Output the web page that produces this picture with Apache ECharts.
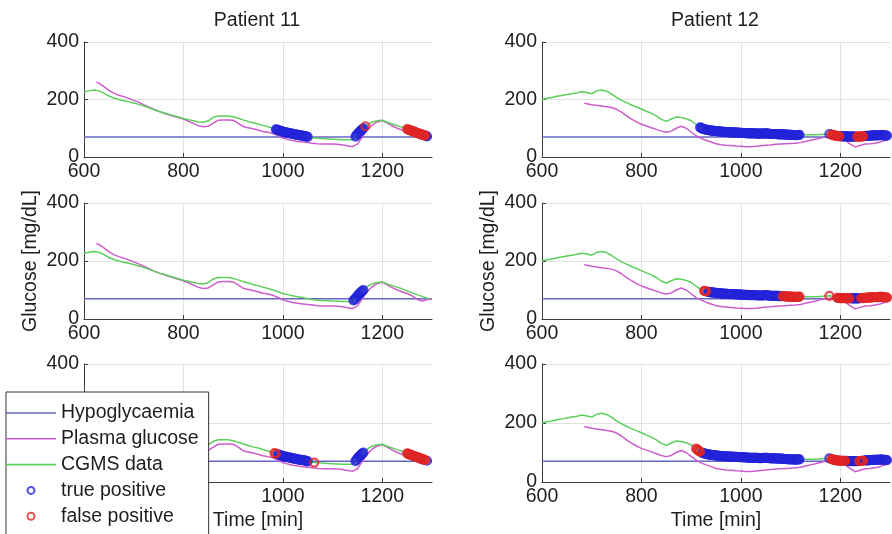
<!DOCTYPE html>
<html><head><meta charset="utf-8">
<script src="https://cdn.jsdelivr.net/npm/echarts@6/dist/echarts.min.js"></script>
<style>html,body{margin:0;padding:0;background:#fff}#c{width:892px;height:534px}</style>
</head><body><div id="c"></div>
<script>
// ---------- data ----------
const patientTitles = ['Patient 11', 'Patient 12'];
const timeTicks = [600, 800, 1000, 1200];
const timeExtent = [600, 1300];
const glucoseExtent = [0, 400];
const glucoseInterval = 200;
const hypoThreshold = 70;
const seriesNames = ['Hypoglycaemia', 'Plasma glucose', 'CGMS data', 'true positive', 'false positive'];

const p11Cgms = [[600,227],[610,230],[620,233],[630,230],[640,222],[650,212],[660,205],[670,200],[680,196],[690,192],[700,188],[710,183],[720,178],[730,172],[740,165],[750,159],[760,154],[770,149],[780,144],[790,139],[800,134],[810,130],[820,126],[830,122],[840,121],[850,126],[860,138],[870,143],[880,143],[890,143],[900,140],[910,135],[920,129],[930,124],[940,119],[950,115],[960,110],[970,105],[980,100],[990,94],[1000,88],[1010,84],[1020,80],[1030,77],[1040,74],[1050,70],[1060,67],[1070,65],[1080,64],[1090,63],[1100,62],[1110,61],[1120,60],[1130,60],[1140,60],[1150,80],[1160,97],[1170,112],[1180,122],[1190,126],[1200,128],[1210,121],[1220,115],[1230,109],[1240,104],[1250,97],[1260,90],[1270,84],[1280,78],[1290,72],[1295,70]];
const p11Plasma = [[625,260],[630,257],[640,245],[650,232],[660,222],[670,215],[680,210],[690,204],[700,197],[710,190],[720,182],[730,174],[740,166],[750,159],[760,153],[770,147],[780,142],[790,137],[800,132],[810,125],[820,117],[830,109],[840,105],[850,107],[860,118],[870,128],[880,129],[890,129],[900,128],[910,118],[920,106],[930,102],[940,98],[950,94],[960,89],[970,86],[980,82],[990,74],[1000,66],[1010,61],[1020,57],[1030,54],[1040,52],[1050,50],[1060,48],[1070,46],[1080,45],[1090,45],[1100,45],[1110,44],[1120,42],[1130,39],[1140,36],[1150,45],[1160,70],[1170,95],[1180,112],[1190,122],[1200,127],[1210,118],[1220,108],[1230,100],[1240,94],[1250,88],[1260,80],[1270,68],[1280,62],[1290,66],[1300,70]];
const p11Detections = [[983,98],[986,96],[988,95],[990,94],[992,93],[994,91.5],[996,90],[998,89],[1000,88],[1002,87],[1004,86],[1006,85.5],[1008,85],[1010,84],[1012,83],[1014,82.5],[1016,82],[1018,81],[1020,80],[1022,79.5],[1024,79],[1026,78],[1028,77.5],[1030,77],[1032,76],[1034,75.5],[1036,75],[1038,74.5],[1040,74],[1042,73.5],[1044,73],[1046,72],[1048,71],[1050,70],[1063,66],[1142,64],[1144,67],[1146,71],[1148,75],[1150,80],[1152,84],[1154,87],[1156,91],[1158,94],[1160,97],[1162,100],[1166,107],[1250,97],[1252,95.5],[1254,94],[1256,93],[1258,91.5],[1260,90],[1262,89],[1264,88],[1266,86.5],[1268,85],[1270,84],[1272,83],[1274,81.5],[1276,80],[1278,79],[1280,78],[1282,77],[1284,76],[1286,74.5],[1288,73],[1290,72]];

const p12Cgms = [[600,200],[610,204],[620,207],[630,211],[640,214],[650,217],[660,220],[670,223],[680,227],[690,224],[700,220],[710,230],[720,233],[730,229],[740,219],[750,207],[760,197],[770,189],[780,181],[790,174],[800,167],[810,159],[820,152],[830,143],[840,131],[850,124],[860,132],[870,139],[880,137],[890,133],[900,126],[910,113],[920,101],[930,95],[940,92],[950,90],[960,88],[970,87],[980,86],[990,85],[1000,84],[1010,83],[1020,82],[1030,82],[1040,81],[1050,82],[1060,80],[1070,80],[1080,79],[1090,78],[1100,77],[1110,76],[1120,77],[1130,77],[1140,77],[1150,77],[1160,78],[1170,79],[1180,80],[1190,74],[1200,72],[1210,72],[1220,71],[1230,71],[1240,71],[1250,73],[1260,74],[1270,75],[1280,76],[1290,75],[1295,74]];
const p12Plasma = [[685,187],[700,182],[720,177],[740,172],[750,166],[760,156],[770,143],[780,132],[790,122],[800,114],[810,108],[820,102],[830,96],[840,90],[850,86],[860,90],[870,100],[880,107],[890,100],[900,87],[910,74],[920,65],[930,58],[940,52],[950,46],[960,43],[970,41],[980,40],[990,38],[1000,37],[1010,36],[1020,36],[1030,37],[1040,39],[1050,41],[1060,42],[1070,44],[1080,45],[1090,46],[1100,47],[1110,48],[1120,50],[1130,54],[1140,58],[1150,62],[1160,66],[1170,70],[1180,72],[1190,73],[1200,72],[1210,58],[1220,45],[1230,35],[1240,40],[1250,45],[1260,46],[1270,48],[1280,52],[1290,58],[1295,61]];
const p12Detections = [[910,113],[912,110],[914,108],[916,105],[918,103],[920,101],[922,99],[924,98],[926,97],[928,96],[930,95],[932,94],[934,93.5],[936,93],[938,92.5],[940,92],[942,91.5],[944,91],[946,91],[948,90.5],[950,90],[952,89.5],[954,89],[956,89],[958,88.5],[960,88],[962,88],[964,87.5],[966,87.5],[968,87],[970,87],[972,86.5],[974,86.5],[976,86],[978,86],[980,86],[982,86],[984,85.5],[986,85.5],[988,85],[990,85],[992,85],[994,84.5],[996,84],[998,84],[1000,84],[1002,84],[1004,83.5],[1006,83.5],[1008,83],[1010,83],[1012,83],[1014,82.5],[1016,82],[1018,82],[1020,82],[1022,82],[1024,82],[1026,82],[1028,82],[1030,82],[1032,81.5],[1034,81.5],[1036,81],[1038,81],[1040,81],[1042,81],[1044,81],[1046,81.5],[1048,82],[1050,82],[1052,81.5],[1054,81],[1056,81],[1058,80.5],[1060,80],[1062,80],[1064,80],[1066,80],[1068,80],[1070,80],[1072,79.5],[1074,79.5],[1076,79],[1078,79],[1080,79],[1082,79],[1084,78.5],[1086,78.5],[1088,78],[1090,78],[1092,77.5],[1094,77.5],[1096,77],[1098,77],[1100,77],[1102,77],[1104,76.5],[1106,76.5],[1108,76],[1110,76],[1112,76],[1114,76.5],[1116,76.5],[1118,77],[1178,80],[1180,79],[1182,78],[1184,77],[1186,76],[1188,75],[1190,74],[1192,73.5],[1194,73],[1196,72.5],[1198,72],[1200,72],[1202,72],[1204,72],[1206,72],[1208,72],[1210,72],[1212,71.5],[1214,71.5],[1216,71],[1218,71],[1220,71],[1222,71],[1224,71],[1226,71],[1228,71],[1230,71],[1232,71],[1234,71],[1236,71],[1238,71],[1240,71],[1242,71.5],[1244,72],[1246,72],[1248,72.5],[1250,73],[1252,73],[1254,73.5],[1256,73.5],[1258,74],[1260,74],[1262,74.5],[1264,74.5],[1266,75],[1268,75],[1270,75],[1272,75],[1274,75.5],[1276,75.5],[1278,76],[1280,76],[1282,76],[1284,76],[1286,75.5],[1288,75.5],[1290,75],[1292,74.5],[1294,74]];

// detection time windows per panel (row, patient)
const p11Row1TP = [[986,1050],[1146,1162],[1286,1290]];
const p11Row1FP = [[1166,1166],[1250,1286]];
const p11Row2TP = [[1142,1162]];
const p11Row2FP = [];
const p11Row3TP = [[990,1050],[1146,1162],[1290,1290]];
const p11Row3FP = [[983,986],[1063,1063],[1250,1286]];
const p12Row1TP = [[918,1118],[1178,1178],[1202,1230],[1250,1294]];
const p12Row1FP = [[1182,1198],[1234,1246]];
const p12Row2TP = [[934,1082],[1222,1238]];
const p12Row2FP = [[926,930],[1084,1118],[1178,1178],[1194,1218],[1242,1294]];
const p12Row3TP = [[922,1118],[1178,1178],[1214,1234],[1250,1294]];
const p12Row3FP = [[910,918],[1182,1210],[1238,1246]];

// ---------- chart ----------
const colors = {hypo:'#6565c4', plasma:'#cc5ccc', cgms:'#5ccf5c', tp:'#2323d8', fp:'#e02424'};
const FONT = '"Liberation Sans", Arial, sans-serif';
const FS = 19.5;
const TXT = '#1e1e1e';
const AX = '#3c3c3c';

function pick(points, windows) {
  return points.filter(p => windows.some(w => p[0] >= w[0] && p[0] <= w[1]));
}

const patients = [
  {cgms:p11Cgms, plasma:p11Plasma, det:p11Detections, tp:[p11Row1TP,p11Row2TP,p11Row3TP], fp:[p11Row1FP,p11Row2FP,p11Row3FP]},
  {cgms:p12Cgms, plasma:p12Plasma, det:p12Detections, tp:[p12Row1TP,p12Row2TP,p12Row3TP], fp:[p12Row1FP,p12Row2FP,p12Row3FP]}
];

const gridLefts = [84, 542];
const gridTops = [42, 203, 364];
const gridHeights = [115, 116, 118];

const grids = [], xAxes = [], yAxes = [], series = [], titles = [];
let gi = 0;
for (let row = 0; row < 3; row++) {
  for (let col = 0; col < 2; col++) {
    const P = patients[col];
    grids.push({left: gridLefts[col], top: gridTops[row], width: 348, height: gridHeights[row]});
    xAxes.push({
      gridIndex: gi, type: 'value', min: timeExtent[0], max: timeExtent[1],
      axisLine: {show: true, lineStyle: {color: AX, width: 1}},
      axisTick: {show: true, inside: true, length: 4, lineStyle: {color: AX}, customValues: timeTicks},
      axisLabel: {customValues: timeTicks, fontSize: FS, color: TXT, margin: 5, fontFamily: FONT,
                  formatter: v => String(v)},
      splitLine: {show: true, lineStyle: {color: '#e2e2e2', width: 1}},
      name: row === 2 ? 'Time [min]' : '', nameLocation: 'middle', nameGap: 29,
      nameTextStyle: {fontSize: FS, color: TXT, fontFamily: FONT}
    });
    yAxes.push({
      gridIndex: gi, type: 'value', min: glucoseExtent[0], max: glucoseExtent[1], interval: glucoseInterval,
      axisLine: {show: true, lineStyle: {color: AX, width: 1}},
      axisTick: {show: true, inside: true, length: 4, lineStyle: {color: AX}},
      axisLabel: {fontSize: FS, color: TXT, margin: 5, fontFamily: FONT},
      splitLine: {show: true, lineStyle: {color: '#e2e2e2', width: 1}},
      name: row === 1 ? 'Glucose [mg/dL]' : '', nameLocation: 'middle', nameGap: 43, nameRotate: 90,
      nameTextStyle: {fontSize: FS, color: TXT, fontFamily: FONT}
    });
    const base = {xAxisIndex: gi, yAxisIndex: gi, animation: false};
    series.push(Object.assign({}, base, {
      name: seriesNames[0], type: 'line', symbol: 'none', z: 2,
      data: [[timeExtent[0], hypoThreshold], [timeExtent[1], hypoThreshold]],
      lineStyle: {color: colors.hypo, width: 1.5}, itemStyle: {color: colors.hypo}
    }));
    series.push(Object.assign({}, base, {
      name: seriesNames[1], type: 'line', symbol: 'none', z: 2, data: P.plasma,
      lineStyle: {color: colors.plasma, width: 1.5}, itemStyle: {color: colors.plasma}
    }));
    series.push(Object.assign({}, base, {
      name: seriesNames[2], type: 'line', symbol: 'none', z: 2, data: P.cgms,
      lineStyle: {color: colors.cgms, width: 1.5}, itemStyle: {color: colors.cgms}
    }));
    series.push(Object.assign({}, base, {
      name: seriesNames[3], type: 'scatter', symbol: 'circle', symbolSize: 8, z: 3,
      data: pick(P.det, P.tp[row]),
      itemStyle: {color: 'rgba(0,0,0,0)', borderColor: colors.tp, borderWidth: 2.2}
    }));
    series.push(Object.assign({}, base, {
      name: seriesNames[4], type: 'scatter', symbol: 'circle', symbolSize: 8, z: 4,
      data: pick(P.det, P.fp[row]),
      itemStyle: {color: 'rgba(0,0,0,0)', borderColor: colors.fp, borderWidth: 2.2}
    }));
    gi++;
  }
}
titles.push({text: patientTitles[0], left: 252, top: 6, textAlign: 'center',
  textStyle: {fontSize: FS, fontWeight: 'normal', color: TXT, fontFamily: FONT}});
titles.push({text: patientTitles[1], left: 710, top: 6, textAlign: 'center',
  textStyle: {fontSize: FS, fontWeight: 'normal', color: TXT, fontFamily: FONT}});

const lineIcon = 'path://M0,0 H32 V1 H0 Z';
const option = {
  backgroundColor: '#fff',
  animation: false,
  title: titles,
  grid: grids, xAxis: xAxes, yAxis: yAxes, series: series,
  legend: {
    orient: 'vertical', left: 6, top: 392, height: 260,
    itemWidth: 50, itemHeight: 7, itemGap: 5.8,
    padding: [11, 10, 40, 0],
    backgroundColor: '#fff', borderColor: '#333', borderWidth: 1,
    textStyle: {fontSize: FS, color: TXT, fontFamily: FONT},
    selectedMode: false,
    data: [
      {name: seriesNames[0], icon: lineIcon, itemStyle: {color: colors.hypo, borderWidth: 0}},
      {name: seriesNames[1], icon: lineIcon, itemStyle: {color: colors.plasma, borderWidth: 0}},
      {name: seriesNames[2], icon: lineIcon, itemStyle: {color: colors.cgms, borderWidth: 0}},
      {name: seriesNames[3], icon: 'emptyCircle', itemStyle: {color: colors.tp}},
      {name: seriesNames[4], icon: 'emptyCircle', itemStyle: {color: colors.fp}}
    ]
  }
};
const chart = echarts.init(document.getElementById('c'), null, {renderer: 'canvas'});
chart.setOption(option);
</script>
</body></html>
